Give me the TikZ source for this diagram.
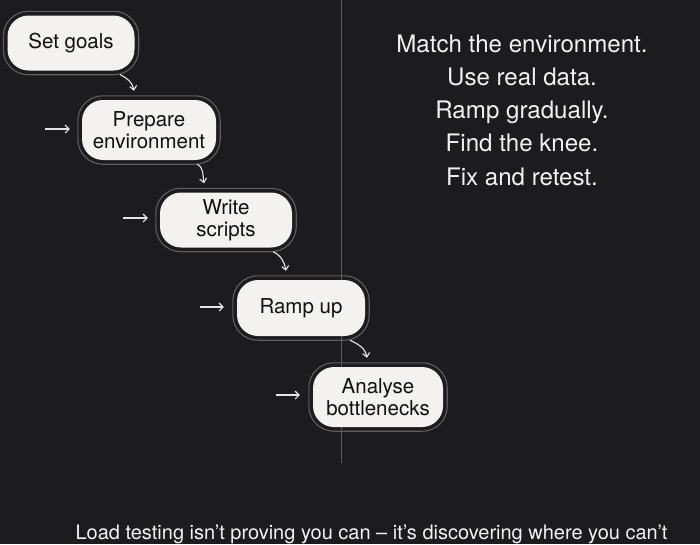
\documentclass[tikz,border=0pt]{standalone}
\usepackage{fontspec}
\setmainfont{TeX Gyre Heros}
\usetikzlibrary{arrows.meta}
\definecolor{bg}{HTML}{1C1B1D}
\definecolor{boxfill}{HTML}{F3F2F0}
\definecolor{ringc}{HTML}{5E5E60}
\definecolor{inkc}{HTML}{101010}
\definecolor{txtc}{HTML}{F2F2F2}
\definecolor{arrc}{HTML}{E6E6E6}
\definecolor{vline}{HTML}{5A5A5C}
\tikzset{
  stepbox/.style={fill=boxfill, draw=none, rounded corners=21pt, align=center,
    text=inkc, font=\fontsize{20.5}{22}\selectfont, inner sep=0pt},
  ringline/.style={draw=ringc, line width=1.1pt, rounded corners=25pt},
  flow/.style={draw=arrc, line width=1.1pt, -{Straight Barb[length=4pt,width=7pt]}},
  side/.style={draw=arrc, line width=1.1pt, -{Straight Barb[length=4pt,width=8pt]}},
}
\begin{document}
\begin{tikzpicture}[x=1pt,y=1pt]
\fill[bg] (0,0) rectangle (700,-544);
\useasboundingbox (0,0) rectangle (700,-544);
\draw[vline, line width=1pt] (341,0) -- (341,-463);
% nodes
\node[stepbox, minimum width=127pt, minimum height=55pt] (n1) at (71,-43) {Set goals};
\node[stepbox, minimum width=134pt, minimum height=60pt] (n2) at (149,-130) {Prepare\\environment};
\node[stepbox, minimum width=132pt, minimum height=55pt] (n3) at (226,-220) {Write\\scripts};
\node[stepbox, minimum width=128pt, minimum height=56pt] (n4) at (301,-308) {Ramp up};
\node[stepbox, minimum width=130pt, minimum height=60pt] (n5) at (378,-397) {Analyse\\bottlenecks};
\foreach \n in {n1,n2,n3,n4,n5}{
  \draw[ringline] ([shift={(-4pt,-4pt)}]\n.south west) rectangle ([shift={(4pt,4pt)}]\n.north east);
}
% flow arrows
\draw[flow] ([shift={(49pt,-4pt)}]n1.south) to[out=-25,in=100] ([shift={(-15pt,9pt)}]n2.north);
\draw[flow] ([shift={(48pt,-4pt)}]n2.south) to[out=-25,in=100] ([shift={(-22pt,9pt)}]n3.north);
\draw[flow] ([shift={(47pt,-4pt)}]n3.south) to[out=-25,in=100] ([shift={(-15pt,9pt)}]n4.north);
\draw[flow] ([shift={(49pt,-4pt)}]n4.south) to[out=-25,in=100] ([shift={(-11pt,9pt)}]n5.north);
% side arrows
\coordinate (s2) at (45,-129);
\coordinate (s3) at (123,-218);
\coordinate (s4) at (200,-307);
\coordinate (s5) at (276,-395);
\draw[side] (s2) -- ([xshift=-12pt]n2.west |- s2);
\draw[side] (s3) -- ([xshift=-12pt]n3.west |- s3);
\draw[side] (s4) -- ([xshift=-13pt]n4.west |- s4);
\draw[side] (s5) -- ([xshift=-13pt]n5.west |- s5);
% right text
\node[text=txtc, font=\fontsize{24.1}{33.2}\selectfont, align=center, inner sep=0pt] (tips) at (522,-110)
  {Match the environment.\\Use real data.\\Ramp gradually.\\Find the knee.\\Fix and retest.};
% bottom text
\node[text=txtc, font=\fontsize{20}{24}\selectfont, anchor=base, inner sep=0pt] (quote) at (371.5,-539)
  {Load testing isn’t proving you can – it’s discovering where you can’t};
\end{tikzpicture}
\end{document}
